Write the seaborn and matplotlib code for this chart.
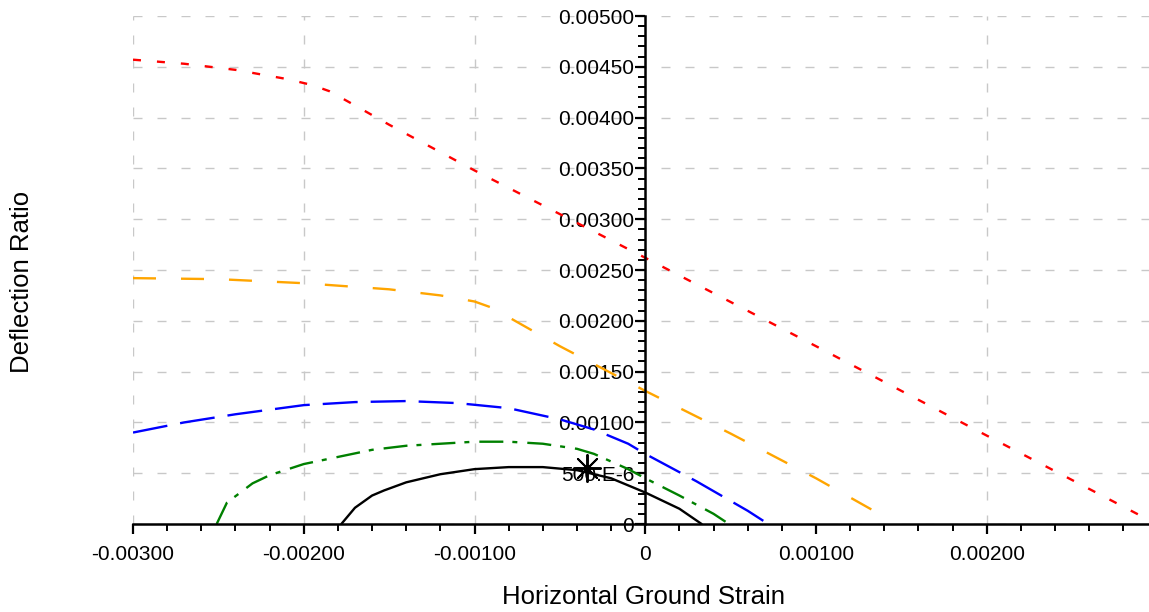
import numpy as np
import pandas as pd
import matplotlib
matplotlib.use("Agg")
import matplotlib.pyplot as plt
from matplotlib.ticker import MultipleLocator, FixedLocator, FixedFormatter
import seaborn as sns

# ---- data ----
red_x = [-0.00300, -0.00270, -0.00240, -0.00210, -0.00195, -0.00185, -0.00170, -0.00150,
         -0.00100, -0.00050, 0.00000, 0.00100, 0.00200, 0.00296]
red_y = [0.00457, 0.00453, 0.00447, 0.00438, 0.00432, 0.00426, 0.00412, 0.00393,
         0.00348, 0.00305, 0.00262, 0.00175, 0.00087, 0.00003]

orange_x = [-0.00300, -0.00250, -0.00200, -0.00150, -0.00120, -0.00100, -0.00090,
            -0.00050, 0.00000, 0.00050, 0.00100, 0.00137]
orange_y = [0.00242, 0.00241, 0.00237, 0.00231, 0.00225, 0.00219, 0.00213,
            0.00175, 0.00131, 0.00089, 0.00045, 0.00010]

blue_x = [-0.00300, -0.00270, -0.00240, -0.00200, -0.00170, -0.00140, -0.00110,
          -0.00080, -0.00050, -0.00030, -0.00010, 0.00000, 0.00030, 0.00060, 0.00072]
blue_y = [0.00090, 0.00100, 0.00108, 0.00117, 0.00120, 0.00121, 0.00119,
          0.00114, 0.00103, 0.00093, 0.00079, 0.00069, 0.00042, 0.00013, 0.00000]

green_x = [-0.00251, -0.00245, -0.00230, -0.00220, -0.00200, -0.00180, -0.00160,
           -0.00140, -0.00120, -0.00100, -0.00080, -0.00060, -0.00040, -0.00030,
           -0.00010, 0.00000, 0.00020, 0.00040, 0.00049]
green_y = [0.00000, 0.00021, 0.00040, 0.00048, 0.00059, 0.00066, 0.00073,
           0.00077, 0.00079, 0.00081, 0.00081, 0.00079, 0.00074, 0.00069,
           0.00054, 0.00045, 0.00028, 0.00010, 0.00000]

black_x = [-0.00178, -0.00170, -0.00165, -0.00160, -0.00153, -0.00140, -0.00120,
           -0.00100, -0.00080, -0.00060, -0.00040, -0.00020, 0.00000, 0.00020, 0.00033]
black_y = [0.00000, 0.00016, 0.00022, 0.00028, 0.00033, 0.00041, 0.00049,
           0.00054, 0.00056, 0.00056, 0.00053, 0.00045, 0.00031, 0.00015, 0.00000]

star_x = [-0.00034]
star_y = [0.00055]

x_ticks = [-0.003, -0.002, -0.001, 0.0, 0.001, 0.002]
x_tick_labels = ["-0.00300", "-0.00200", "-0.00100", "0", "0.00100", "0.00200"]
y_ticks = [0.0, 0.0005, 0.001, 0.0015, 0.002, 0.0025, 0.003, 0.0035, 0.004, 0.0045, 0.005]
y_tick_labels = ["0", "500.E-6", "0.00100", "0.00150", "0.00200", "0.00250",
                 "0.00300", "0.00350", "0.00400", "0.00450", "0.00500"]

# ---- style ----
sns.set_theme(style="white")
plt.rcParams["font.family"] = ["Liberation Sans", "DejaVu Sans"]
plt.rcParams["lines.scale_dashes"] = False

fig = plt.figure(figsize=(11.49, 6.12), dpi=100)
ax = fig.add_axes([133 / 1149, 88 / 612, 1 - 133 / 1149, (524 - 16) / 612])

PX = 0.72  # points per pixel at 100 dpi

series = [
    (red_x, red_y, "#ff0000", (0, (8 * PX, 16 * PX))),
    (orange_x, orange_y, "#ffa500", (0, (23 * PX, 25 * PX))),
    (blue_x, blue_y, "#0000ff", (0, (35 * PX, 13 * PX))),
    (green_x, green_y, "#008000", (0, (24 * PX, 9 * PX, 5 * PX, 10 * PX))),
    (black_x, black_y, "#000000", "-"),
]
for xs, ys, col, ls in series:
    df = pd.DataFrame({"x": xs, "y": ys})
    sns.lineplot(data=df, x="x", y="y", ax=ax, color=col, linewidth=1.7,
                 linestyle=ls, sort=False, estimator=None, zorder=3)

sns.scatterplot(x=star_x, y=star_y, ax=ax, marker=(8, 2, 0), s=380, color="black",
                linewidth=1.4, zorder=5)

ax.set_xlim(-0.003, 0.00295)
ax.set_ylim(0, 0.005)

ax.spines["left"].set_position(("data", 0))
ax.spines["top"].set_visible(False)
ax.spines["right"].set_visible(False)
for s in ("left", "bottom"):
    ax.spines[s].set_color("black")
    ax.spines[s].set_linewidth(1.8)
    ax.spines[s].set_zorder(4)

ax.xaxis.set_major_locator(FixedLocator(x_ticks))
ax.xaxis.set_major_formatter(FixedFormatter(x_tick_labels))
ax.xaxis.set_minor_locator(MultipleLocator(0.0002))
ax.yaxis.set_major_locator(FixedLocator(y_ticks))
ax.yaxis.set_major_formatter(FixedFormatter(y_tick_labels))
ax.yaxis.set_minor_locator(MultipleLocator(0.0001))

ax.tick_params(axis="both", which="both", direction="out", color="black",
               bottom=True, left=True, labelsize=15, labelcolor="black")
ax.tick_params(axis="both", which="major", length=7, width=1.6)
ax.tick_params(axis="both", which="minor", length=5, width=1.4)
ax.tick_params(axis="x", which="major", pad=8)
ax.tick_params(axis="y", which="major", pad=1)

ax.grid(True, which="major", color="#c8c8c8", linewidth=1.0,
        linestyle=(0, (9 * PX, 15 * PX)))
ax.set_axisbelow(True)
for gl in ax.get_xgridlines():
    if abs(gl.get_xdata()[0]) < 1e-12:
        gl.set_visible(False)

ax.set_xlabel("")
ax.set_ylabel("")
fig.text(644 / 1149, 1 - 597 / 612, "Horizontal Ground Strain", ha="center",
         va="center", fontsize=18.5, color="black")
fig.text(22 / 1149, 1 - 282 / 612, "Deflection Ratio", ha="center", va="center",
         rotation=90, fontsize=18.5, color="black")

fig.savefig("out.png", dpi=100)
